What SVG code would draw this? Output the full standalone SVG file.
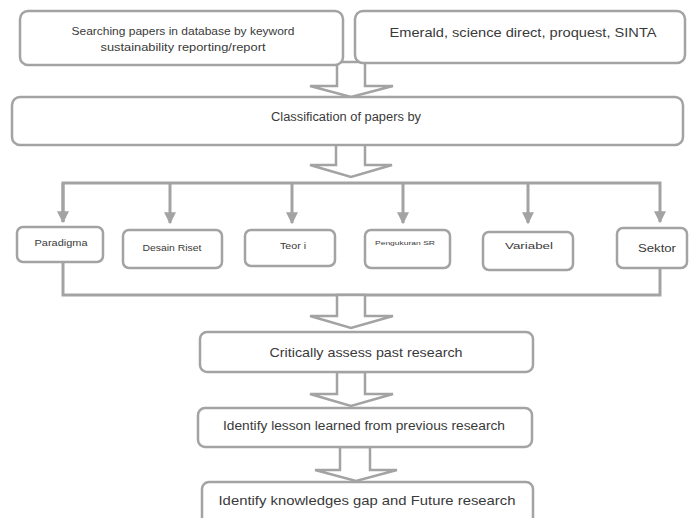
<svg xmlns="http://www.w3.org/2000/svg" width="689" height="518" viewBox="0 0 689 518">
<defs>
<style>
.box{fill:#fff;stroke:#a3a3a3;stroke-width:2.5}
.t{font-family:"Liberation Sans",Arial,sans-serif;fill:#3a3a3a;text-anchor:middle;dominant-baseline:central}
.ln{fill:none;stroke:#a3a3a3;stroke-width:3}
.big{fill:#fff;stroke:#a3a3a3;stroke-width:2.5;stroke-linejoin:miter}
</style>
<marker id="ah" viewBox="0 0 10 10" refX="9" refY="5" markerWidth="4" markerHeight="4" orient="auto" markerUnits="strokeWidth">
<path d="M0,0 L10,5 L0,10 z" fill="#a3a3a3"/>
</marker>
</defs>
<rect width="689" height="518" fill="#fff"/>
<g id="connectors">
<polygon class="big" points="337,62 365,62 365,86 393,86 351,97 310,86 337,86"/>
<polygon class="big" points="336,144 365,144 365,165 392,165 351,177 310,165 336,165"/>
<path class="ln" d="M63,222 L63,183 L660,183 L660,222" marker-end="url(#ah)"/>
<path class="ln" d="M63,183 L63,222" marker-end="url(#ah)"/>
<path class="ln" d="M170,183 L170,223" marker-end="url(#ah)"/>
<path class="ln" d="M292,183 L292,223" marker-end="url(#ah)"/>
<path class="ln" d="M403,183 L403,223" marker-end="url(#ah)"/>
<path class="ln" d="M528,183 L528,223" marker-end="url(#ah)"/>
<path class="ln" d="M63,262 L63,295 L660,295 L660,268"/>
<polygon class="big" points="337,295 365,295 365,316 393,316 351,328 310,316 337,316"/>
<polygon class="big" points="337,372 365,372 365,394 393,394 351,406 310,394 337,394"/>
<polygon class="big" points="340,447 370,447 370,470 397,470 356,481 315,470 340,470"/>
</g>
<g id="n_search"><rect class="box" x="20" y="11" width="323" height="54" rx="8"/>
<text class="t" x="183" y="31" font-size="11" textLength="223" lengthAdjust="spacingAndGlyphs">Searching papers in database by keyword</text>
<text class="t" x="183" y="47" font-size="11" textLength="165" lengthAdjust="spacingAndGlyphs">sustainability reporting/report</text></g>
<g id="n_db"><rect class="box" x="355" y="11" width="330" height="52" rx="8"/>
<text class="t" x="523" y="32" font-size="13" textLength="267" lengthAdjust="spacingAndGlyphs">Emerald, science direct, proquest, SINTA</text></g>
<g id="n_class"><rect class="box" x="12" y="97" width="671" height="48" rx="8"/>
<text class="t" x="346" y="117" font-size="12" textLength="150" lengthAdjust="spacingAndGlyphs">Classification of papers by</text></g>
<g id="n_paradigma"><rect class="box" x="17" y="227" width="86" height="35" rx="6"/>
<text class="t" x="61" y="243" font-size="9" textLength="53" lengthAdjust="spacingAndGlyphs">Paradigma</text></g>
<g id="n_desain"><rect class="box" x="123" y="230" width="99" height="38" rx="6"/>
<text class="t" x="172" y="248" font-size="9" textLength="59" lengthAdjust="spacingAndGlyphs">Desain Riset</text></g>
<g id="n_teori"><rect class="box" x="245" y="230" width="90" height="36" rx="6"/>
<text class="t" x="293" y="246" font-size="9" textLength="26" lengthAdjust="spacingAndGlyphs">Teor i</text></g>
<g id="n_pengukuran"><rect class="box" x="365" y="230" width="85" height="38" rx="6"/>
<text class="t" x="405" y="243" font-size="5" textLength="60" lengthAdjust="spacingAndGlyphs">Pengukuran SR</text></g>
<g id="n_variabel"><rect class="box" x="483" y="232" width="90" height="38" rx="6"/>
<text class="t" x="529" y="246" font-size="9" textLength="48" lengthAdjust="spacingAndGlyphs">Variabel</text></g>
<g id="n_sektor"><rect class="box" x="617" y="228" width="70" height="40" rx="6"/>
<text class="t" x="657" y="248" font-size="10" textLength="38" lengthAdjust="spacingAndGlyphs">Sektor</text></g>
<g id="n_critical"><rect class="box" x="200" y="332" width="333" height="40" rx="7"/>
<text class="t" x="366" y="352" font-size="13" textLength="193" lengthAdjust="spacingAndGlyphs">Critically assess past research</text></g>
<g id="n_lesson"><rect class="box" x="198" y="408" width="334" height="39" rx="7"/>
<text class="t" x="364" y="426" font-size="12" textLength="282" lengthAdjust="spacingAndGlyphs">Identify lesson learned from previous research</text></g>
<g id="n_gap"><rect class="box" x="202" y="482" width="331" height="45" rx="7"/>
<text class="t" x="367" y="500" font-size="13" textLength="297" lengthAdjust="spacingAndGlyphs">Identify knowledges gap and Future research</text></g>
</svg>
